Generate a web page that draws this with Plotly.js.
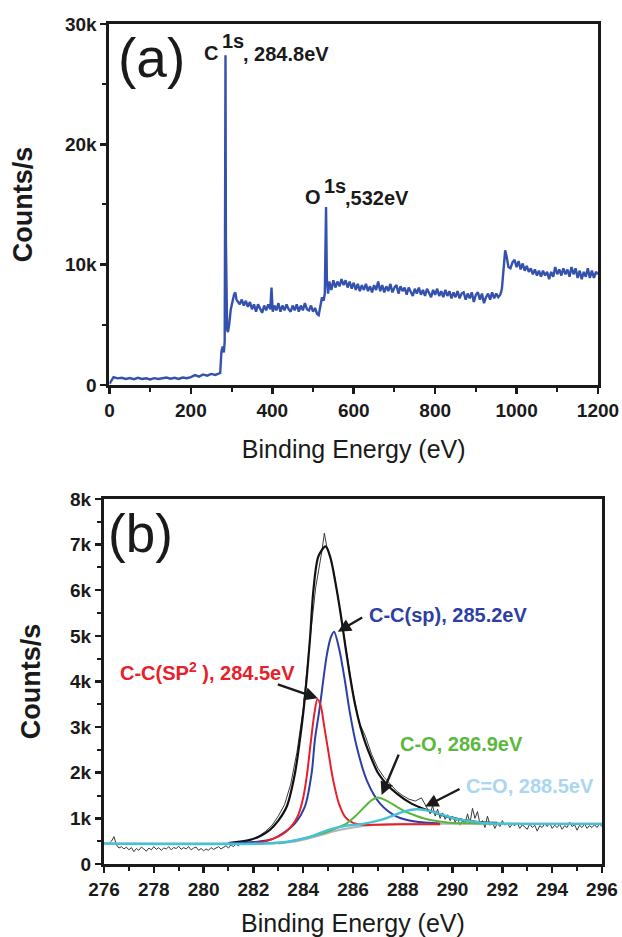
<!DOCTYPE html>
<html>
<head>
<meta charset="utf-8">
<script src="https://cdn.plot.ly/plotly-3.0.1.min.js"></script>
<style>
html,body{margin:0;padding:0;background:#fff;}
#chart{width:622px;height:937px;}
</style>
</head>
<body>
<div id="chart"></div>
<script>
// ---------- Panel (a): XPS survey spectrum ----------
const surveyEnergy = [0,5,10,20,30,40,50,60,70,80,90,100,110,120,130,140,150,160,170,180,190,200,210,220,230,240,250,260,268,272,275,278,281,283,284,285,286,287,289,291,294,298,302,306,309,312,316,320,325,330,335,340,345,350,355,360,365,370,375,380,385,390,395,398,401,405,410,415,420,425,430,435,440,445,450,455,460,465,470,475,480,485,490,495,500,505,510,514,518,522,526,529,532,534,537,540,545,550,555,560,565,570,575,580,585,590,595,600,605,610,615,620,625,630,635,640,645,650,655,660,665,670,675,680,685,690,695,700,705,710,715,720,725,730,735,740,745,750,755,760,765,770,775,780,785,790,795,800,805,810,815,820,825,830,835,840,845,850,855,860,865,870,875,880,885,890,895,900,905,910,915,920,925,930,935,940,945,950,955,960,964,968,972,976,980,985,990,995,1000,1005,1010,1015,1020,1025,1030,1035,1040,1045,1050,1055,1060,1065,1070,1075,1080,1085,1090,1095,1100,1105,1110,1115,1120,1125,1130,1135,1140,1145,1150,1155,1160,1165,1170,1175,1180,1185,1190,1195,1200];
const surveyCounts = [0.1,0.4,0.65,0.55,0.6,0.5,0.58,0.48,0.6,0.5,0.56,0.46,0.57,0.5,0.54,0.62,0.52,0.6,0.5,0.62,0.57,0.66,0.82,0.7,0.88,0.78,0.92,0.84,0.95,1.0,2.8,3.2,2.7,3.6,15,27.4,12,6,4.6,4.4,5.0,6.3,7.0,7.5,7.7,7.1,6.9,6.7,7.1,6.6,7.0,6.5,6.9,6.3,6.7,6.1,6.7,6.3,6.0,6.6,6.2,6.7,6.3,8.1,6.1,6.6,6.2,6.8,6.1,6.6,6.2,6.7,6.3,6.1,6.6,6.2,6.7,6.1,6.6,6.2,6.8,6.3,6.2,6.6,6.1,6.4,5.9,5.8,6.6,7.3,7.0,7.6,14.8,8.8,7.6,8.6,7.9,8.7,8.1,8.6,8.2,8.8,8.3,8.7,8.1,8.6,8.0,8.5,7.9,8.4,7.8,8.3,7.9,8.4,7.8,8.2,7.7,8.3,7.9,8.6,7.8,8.3,7.7,8.2,7.8,8.4,7.7,8.1,8.3,7.6,8.2,7.8,8.1,7.5,8.1,7.7,7.4,8.0,7.6,8.1,7.5,7.9,7.4,8.0,7.6,7.3,7.9,7.5,8.0,7.4,7.8,7.3,7.9,7.4,7.8,7.2,7.7,7.3,7.8,7.2,7.6,7.7,7.1,7.6,7.2,7.7,6.9,7.5,7.7,7.1,7.6,6.8,7.3,7.6,7.1,7.7,7.2,7.6,7.3,7.5,8.0,9.5,11.2,10.6,9.8,9.7,10.2,10.4,9.8,10.3,9.6,10.1,9.5,9.9,9.4,9.7,9.2,9.6,9.1,9.5,9.0,9.5,9.1,9.4,8.8,9.4,9.0,9.8,9.2,9.6,9.1,9.7,9.2,9.6,9.0,9.8,9.2,9.7,8.9,9.5,8.8,9.4,9.0,9.7,8.9,9.5,8.9,9.4,9.2];
const surveyYTicks = [0,10,20,30];
const surveyYTickText = ['0','10k','20k','30k'];

// ---------- Panel (b): C1s high-resolution spectrum ----------
const rawEnergy = [276.2,276.3,276.4,276.5,276.6,276.7,276.8,276.9,277.0,277.1,277.2,277.3,277.4,277.5,277.6,277.7,277.8,277.9,278.0,278.1,278.2,278.3,278.4,278.5,278.6,278.7,278.8,278.9,279.0,279.1,279.2,279.3,279.4,279.5,279.6,279.7,279.8,279.9,280.0,280.1,280.2,280.3,280.4,280.5,280.6,280.7,280.8,280.9,281.0,281.1,281.2,281.3,281.4,281.5,281.75,282.0,282.25,282.5,282.75,283.0,283.25,283.5,283.75,284.0,284.25,284.5,284.75,284.85,284.95,285.0,285.25,285.5,285.75,286.0,286.25,286.5,286.75,287.0,287.25,287.5,287.75,288.0,288.25,288.5,288.75,289.0,289.1,289.2,289.3,289.4,289.5,289.6,289.7,289.8,289.9,290.0,290.1,290.2,290.3,290.4,290.5,290.6,290.7,290.8,290.9,291.0,291.1,291.2,291.3,291.4,291.5,291.6,291.7,291.8,291.9,292.0,292.1,292.2,292.3,292.4,292.5,292.6,292.7,292.8,292.9,293.0,293.1,293.2,293.3,293.4,293.5,293.6,293.7,293.8,293.9,294.0,294.1,294.2,294.3,294.4,294.5,294.6,294.7,294.8,294.9,295.0,295.1,295.2,295.3,295.4,295.5,295.6,295.7,295.8,295.9,296.0];
const rawCounts = [0.45,0.5,0.6,0.42,0.35,0.38,0.33,0.37,0.31,0.36,0.27,0.34,0.3,0.37,0.33,0.28,0.35,0.31,0.38,0.32,0.36,0.3,0.35,0.33,0.38,0.31,0.36,0.34,0.39,0.32,0.36,0.33,0.38,0.31,0.35,0.37,0.3,0.34,0.29,0.33,0.3,0.36,0.32,0.35,0.38,0.33,0.36,0.4,0.35,0.42,0.38,0.44,0.4,0.47,0.5,0.55,0.62,0.72,0.85,1.05,1.3,1.75,2.45,3.4,4.8,6.05,6.85,7.25,6.95,6.9,6.35,5.5,4.6,3.75,3.1,2.8,2.4,2.1,1.9,1.74,1.6,1.5,1.42,1.38,1.45,1.2,1.1,1.28,1.05,1.2,1.0,1.12,0.98,1.08,0.95,1.05,0.92,1.0,0.85,0.95,0.88,1.1,0.9,1.22,1.0,1.15,0.88,0.95,0.8,1.05,0.85,0.92,0.78,0.9,0.82,0.95,0.85,0.9,0.8,0.88,0.84,0.9,0.78,0.86,0.82,0.76,0.88,0.8,0.85,0.72,0.84,0.8,0.88,0.82,0.9,0.78,0.85,0.8,0.87,0.76,0.84,0.8,0.92,0.82,0.86,0.74,0.85,0.8,0.88,0.78,0.84,0.8,0.86,0.8,0.88,0.82];

const envelopeEnergy = [281.0,281.86,282.3,282.67,283.0,283.34,283.67,283.85,284.03,284.27,284.41,284.61,284.9,285.1,285.3,285.5,285.7,285.9,286.1,286.3,286.5,286.75,287.0,287.35,287.75,288.3,288.7,289.1,289.6,290.0,290.43,291.0,291.8];
const envelopeCounts = [0.46,0.53,0.62,0.75,0.95,1.26,1.99,2.65,3.45,4.91,6.0,6.74,6.96,6.7,6.15,5.5,4.75,4.05,3.45,3.0,2.65,2.3,2.0,1.75,1.55,1.34,1.24,1.16,1.07,1.01,0.96,0.92,0.9];

const backgroundEnergy = [276,282,283,283.5,284,284.5,285,285.5,286,286.5,287,288,290,296];
const backgroundCounts = [0.45,0.45,0.46,0.48,0.53,0.6,0.68,0.75,0.8,0.84,0.86,0.88,0.88,0.88];

const sp2Energy = [282.0,282.5,283.0,283.3,283.6,283.8,284.0,284.15,284.3,284.45,284.57,284.7,284.85,285.0,285.2,285.45,285.7,286.0,286.4,287.0,288.0,289.5];
const sp2Counts = [0.45,0.5,0.6,0.7,0.88,1.07,1.45,1.95,2.65,3.3,3.61,3.48,3.0,2.5,1.85,1.3,1.02,0.9,0.86,0.86,0.87,0.87];

const spEnergy = [281.0,282.0,282.67,283.2,283.67,284.07,284.34,284.47,284.67,284.94,285.1,285.24,285.45,285.68,285.88,286.15,286.55,287.08,287.76,288.5,289.5];
const spCounts = [0.45,0.48,0.53,0.68,0.89,1.26,1.99,2.72,3.45,4.55,4.95,5.09,4.7,4.0,3.3,2.57,1.84,1.33,1.04,0.93,0.89];

const coEnergy = [283.0,283.5,284.0,284.5,284.94,285.4,285.75,286.1,286.48,286.75,287.0,287.3,287.75,288.1,288.42,288.9,289.36,290.0,291.0,292.0];
const coCounts = [0.45,0.5,0.56,0.63,0.7,0.8,0.89,1.05,1.26,1.4,1.46,1.4,1.26,1.15,1.08,0.99,0.94,0.9,0.89,0.88];

const c2oEnergy = [276,282.5,283.5,284.3,285.08,285.75,286.4,287.08,287.7,288.1,288.56,289.0,289.4,289.76,290.2,290.7,291.3,292.0,296];
const c2oCounts = [0.45,0.45,0.5,0.6,0.76,0.84,0.88,0.96,1.08,1.16,1.2,1.17,1.11,1.05,0.98,0.94,0.9,0.885,0.88];

const c1sYTicks = [0,1,2,3,4,5,6,7,8];
const c1sYTickText = ['0','1k','2k','3k','4k','5k','6k','7k','8k'];

// ---------- styling ----------
const FONT = 'Liberation Sans, Arial, Helvetica, sans-serif';
const INK = '#1a1a1a';
const tickFont = {family: FONT, size: 19, color: INK, weight: 'bold'};
const xTitleFont = {family: FONT, size: 25, color: INK};
const yTitleFont = {family: FONT, size: 27, color: INK, weight: 'bold'};

function axisBase() {
  return {
    showline: true, linewidth: 3, linecolor: INK, mirror: true,
    ticks: 'outside', ticklen: 6, tickwidth: 2.5, tickcolor: INK,
    showgrid: false, zeroline: false, tickfont: tickFont, fixedrange: true
  };
}

const traces = [
  {x: surveyEnergy, y: surveyCounts, xaxis: 'x', yaxis: 'y', mode: 'lines',
   line: {color: '#3451ad', width: 2.4}, hoverinfo: 'skip'},
  {x: rawEnergy, y: rawCounts, xaxis: 'x2', yaxis: 'y2', mode: 'lines',
   line: {color: '#3a3a3a', width: 1}, hoverinfo: 'skip'},
  {x: envelopeEnergy, y: envelopeCounts, xaxis: 'x2', yaxis: 'y2', mode: 'lines',
   line: {color: '#111111', width: 2.2, shape: 'spline', smoothing: 0.8}, hoverinfo: 'skip'},
  {x: backgroundEnergy, y: backgroundCounts, xaxis: 'x2', yaxis: 'y2', mode: 'lines',
   line: {color: '#b5b5b5', width: 2, shape: 'spline', smoothing: 0.8}, hoverinfo: 'skip'},
  {x: spEnergy, y: spCounts, xaxis: 'x2', yaxis: 'y2', mode: 'lines',
   line: {color: '#2b3fa6', width: 2, shape: 'spline', smoothing: 0.8}, hoverinfo: 'skip'},
  {x: sp2Energy, y: sp2Counts, xaxis: 'x2', yaxis: 'y2', mode: 'lines',
   line: {color: '#e8202a', width: 2, shape: 'spline', smoothing: 0.8}, hoverinfo: 'skip'},
  {x: coEnergy, y: coCounts, xaxis: 'x2', yaxis: 'y2', mode: 'lines',
   line: {color: '#58b63a', width: 2, shape: 'spline', smoothing: 0.8}, hoverinfo: 'skip'},
  {x: c2oEnergy, y: c2oCounts, xaxis: 'x2', yaxis: 'y2', mode: 'lines',
   line: {color: '#45c2da', width: 2.4, shape: 'spline', smoothing: 0.8}, hoverinfo: 'skip'}
];

const labelFont = (c) => ({family: FONT, size: 20, color: c, weight: 'bold'});
function txt(xref, yref, x, y, text, font) {
  return {xref, yref, x, y, text, font, showarrow: false, xanchor: 'left', yanchor: 'middle'};
}
function arrow(xref, yref, tailX, tailY, headX, headY) {
  return {xref, yref, axref: xref, ayref: yref, x: headX, y: headY, ax: tailX, ay: tailY,
    text: '', showarrow: true, arrowhead: 2, arrowsize: 1.1, arrowwidth: 2.4,
    arrowcolor: INK, standoff: 0, startstandoff: 0};
}

const annotations = [
  txt('x', 'y', 17, 27.2, '(a)', {family: FONT, size: 55, color: INK}),
  txt('x', 'y', 228, 27.6, 'C', labelFont(INK)),
  txt('x', 'y', 271, 28.6, '1s', labelFont(INK)),
  txt('x', 'y', 322, 27.5, ', 284.8eV', labelFont(INK)),
  txt('x', 'y', 476, 15.6, 'O', labelFont(INK)),
  txt('x', 'y', 521, 16.5, '1s', labelFont(INK)),
  txt('x', 'y', 573, 15.5, ',532eV', labelFont(INK)),

  txt('x2', 'y2', 276.1, 7.25, '(b)', {family: FONT, size: 53, color: INK}),
  txt('x2', 'y2', 286.55, 5.45, 'C-C(sp), 285.2eV', labelFont('#2e3fa3')),
  txt('x2', 'y2', 276.55, 4.22, 'C-C(SP<sup>2</sup> ), 284.5eV', labelFont('#e8202a')),
  txt('x2', 'y2', 287.82, 2.62, 'C-O, 286.9eV', labelFont('#5ab83c')),
  txt('x2', 'y2', 290.45, 1.7, 'C=O, 288.5eV', labelFont('#a9d6f0')),
  arrow('x2', 'y2', 286.43, 5.42, 285.39, 5.09),
  arrow('x2', 'y2', 282.92, 3.95, 284.59, 3.63),
  arrow('x2', 'y2', 287.86, 2.43, 287.15, 1.51),
  arrow('x2', 'y2', 290.34, 1.66, 288.9, 1.26)
];

const layout = {
  width: 622, height: 937,
  margin: {l: 0, r: 0, t: 0, b: 0},
  paper_bgcolor: '#ffffff', plot_bgcolor: '#ffffff',
  showlegend: false,
  font: {family: FONT, color: INK},
  xaxis: Object.assign(axisBase(), {
    domain: [0.1760, 0.9614], anchor: 'y', range: [0, 1200],
    tickmode: 'linear', tick0: 0, dtick: 200,
    minor: {ticks: 'outside', ticklen: 4, tickwidth: 2, tickcolor: INK, tickmode: 'linear', tick0: 0, dtick: 100},
    title: {text: 'Binding Energy (eV)', font: xTitleFont, standoff: 21}
  }),
  yaxis: Object.assign(axisBase(), {
    domain: [0.5891, 0.9744], anchor: 'x', range: [0, 30],
    tickmode: 'array', tickvals: surveyYTicks, ticktext: surveyYTickText,
    minor: {ticks: 'outside', ticklen: 4, tickwidth: 2, tickcolor: INK, tickmode: 'linear', tick0: 0, dtick: 5},
    title: {text: 'Counts/s', font: yTitleFont, standoff: 25}
  }),
  xaxis2: Object.assign(axisBase(), {
    domain: [0.1672, 0.9678], anchor: 'y2', range: [276, 296],
    tickmode: 'linear', tick0: 276, dtick: 2,
    minor: {ticks: 'outside', ticklen: 4, tickwidth: 2, tickcolor: INK, tickmode: 'linear', tick0: 276, dtick: 1},
    title: {text: 'Binding Energy (eV)', font: xTitleFont, standoff: 18}
  }),
  yaxis2: Object.assign(axisBase(), {
    domain: [0.0779, 0.4675], anchor: 'x2', range: [0, 8],
    tickmode: 'array', tickvals: c1sYTicks, ticktext: c1sYTickText,
    minor: {ticks: 'outside', ticklen: 4, tickwidth: 2, tickcolor: INK, tickmode: 'linear', tick0: 0, dtick: 0.5},
    title: {text: 'Counts/s', font: yTitleFont, standoff: 22}
  }),
  annotations: annotations
};

Plotly.newPlot('chart', traces, layout, {displayModeBar: false, staticPlot: true});
</script>
</body>
</html>
